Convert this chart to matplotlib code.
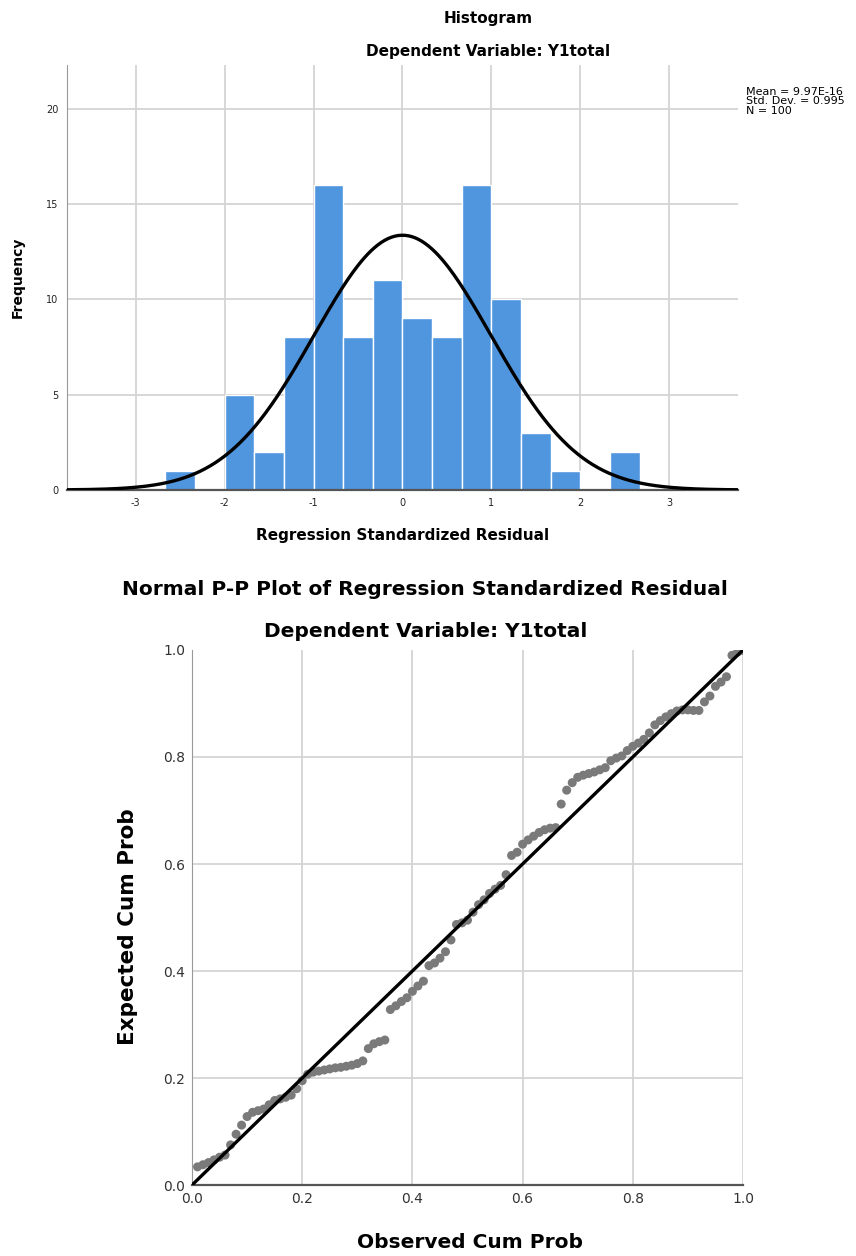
import numpy as np
import matplotlib as mpl
mpl.use('Agg')
import matplotlib.pyplot as plt

# histogram of standardized residuals (bin width 1/3, starting at -8/3)
freq = [1, 0, 5, 2, 8, 16, 8, 11, 9, 8, 16, 10, 3, 1, 0, 2]
bin_start = -8 / 3
bin_width = 1 / 3
res_mean = 9.97e-16
res_sd = 0.995
n_obs = 100
stats_lines = ['Mean = 9.97E-16', 'Std. Dev. = 0.995', 'N = 100']

# normal P-P plot points
observed = [0.01, 0.02, 0.03, 0.04, 0.05, 0.06, 0.07, 0.08, 0.09, 0.10,
            0.11, 0.12, 0.13, 0.14, 0.15, 0.16, 0.17, 0.18, 0.19, 0.20,
            0.21, 0.22, 0.23, 0.24, 0.25, 0.26, 0.27, 0.28, 0.29, 0.30,
            0.31, 0.32, 0.33, 0.34, 0.35, 0.36, 0.37, 0.38, 0.39, 0.40,
            0.41, 0.42, 0.43, 0.44, 0.45, 0.46, 0.47, 0.48, 0.49, 0.50,
            0.51, 0.52, 0.53, 0.54, 0.55, 0.56, 0.57, 0.58, 0.59, 0.60,
            0.61, 0.62, 0.63, 0.64, 0.65, 0.66, 0.67, 0.68, 0.69, 0.70,
            0.71, 0.72, 0.73, 0.74, 0.75, 0.76, 0.77, 0.78, 0.79, 0.80,
            0.81, 0.82, 0.83, 0.84, 0.85, 0.86, 0.87, 0.88, 0.89, 0.90,
            0.91, 0.92, 0.93, 0.94, 0.95, 0.96, 0.97, 0.98, 0.99, 1.00]
expected = [0.034, 0.038, 0.042, 0.047, 0.052, 0.056, 0.075, 0.095, 0.112, 0.128,
            0.136, 0.139, 0.142, 0.150, 0.158, 0.161, 0.164, 0.168, 0.180, 0.195,
            0.207, 0.211, 0.213, 0.215, 0.217, 0.219, 0.220, 0.222, 0.224, 0.227,
            0.232, 0.255, 0.264, 0.268, 0.271, 0.328, 0.335, 0.343, 0.350, 0.362,
            0.372, 0.381, 0.410, 0.415, 0.424, 0.436, 0.458, 0.487, 0.490, 0.495,
            0.510, 0.524, 0.533, 0.545, 0.553, 0.560, 0.580, 0.616, 0.622, 0.637,
            0.645, 0.652, 0.659, 0.664, 0.667, 0.668, 0.712, 0.738, 0.752, 0.762,
            0.766, 0.769, 0.772, 0.776, 0.780, 0.793, 0.798, 0.802, 0.812, 0.820,
            0.826, 0.833, 0.845, 0.860, 0.868, 0.875, 0.881, 0.886, 0.888, 0.888,
            0.887, 0.887, 0.903, 0.914, 0.932, 0.940, 0.950, 0.990, 0.996, 0.999]

plt.rcParams['axes.unicode_minus'] = False
grid_c = '#d4d4d4'

fig = plt.figure(figsize=(8.56, 12.56), dpi=100)

# ---- histogram ----
ax = fig.add_axes([0.0783, 0.6099, 0.7838, 0.3384])
edges = bin_start + bin_width * np.arange(len(freq) + 1)
centers = (edges[:-1] + edges[1:]) / 2
ax.bar(centers, freq, width=bin_width, color='#4F96DE', edgecolor='white',
       linewidth=1.0, zorder=2)
xs = np.linspace(-3.8, 3.8, 400)
curve = n_obs * bin_width * np.exp(-0.5 * ((xs - res_mean) / res_sd) ** 2) / (res_sd * np.sqrt(2 * np.pi))
ax.plot(xs, curve, color='black', lw=2.4, zorder=3)
ax.set_xlim(-3.77, 3.77)
ax.set_ylim(0, 22.3)
ax.set_xticks([-3, -2, -1, 0, 1, 2, 3])
ax.set_yticks([0, 5, 10, 15, 20])
ax.grid(True, color=grid_c, lw=1.3, zorder=0)
ax.set_axisbelow(True)
ax.tick_params(length=0, labelsize=7, colors='#222222', pad=6)
for s in ['top', 'right']:
    ax.spines[s].set_visible(False)
ax.spines['left'].set_color('#999999')
ax.spines['bottom'].set_color('#555555')
ax.spines['bottom'].set_linewidth(1.6)

fig.text(0.570, 0.9856, 'Histogram', ha='center', va='center', fontsize=11,
         fontweight='bold')
fig.text(0.570, 0.9586, 'Dependent Variable: Y1total', ha='center', va='center',
         fontsize=11, fontweight='bold')
fig.text(0.021, 0.7795, 'Frequency', ha='center', va='center', rotation=90,
         fontsize=10, fontweight='bold')
fig.text(0.470, 0.5740, 'Regression Standardized Residual', ha='center', va='center',
         fontsize=11, fontweight='bold')
fig.text(0.872, 0.9195, '\n'.join(stats_lines), ha='left', va='center',
         fontsize=8, linespacing=0.95)

# ---- P-P plot ----
ax2 = fig.add_axes([0.2243, 0.0565, 0.6437, 0.4260])
ax2.plot([0, 1], [0, 1], color='black', lw=2.4, zorder=3)
ax2.scatter(observed, expected, s=42, color='#7a7a7a', edgecolors='none', zorder=2)
ax2.set_xlim(0, 1)
ax2.set_ylim(0, 1)
ticks = [0.0, 0.2, 0.4, 0.6, 0.8, 1.0]
ax2.set_xticks(ticks)
ax2.set_yticks(ticks)
ax2.set_xticklabels(['%.1f' % t for t in ticks])
ax2.set_yticklabels(['%.1f' % t for t in ticks])
ax2.grid(True, color=grid_c, lw=1.3, zorder=0)
ax2.yaxis.get_gridlines()[-1].set_visible(False)
ax2.set_axisbelow(True)
ax2.tick_params(length=0, labelsize=10, colors='#333333', pad=5)
for s in ['top', 'right']:
    ax2.spines[s].set_visible(False)
ax2.spines['left'].set_color('#999999')
ax2.spines['bottom'].set_color('#555555')
ax2.spines['bottom'].set_linewidth(1.6)

fig.text(0.496, 0.5303, 'Normal P-P Plot of Regression Standardized Residual',
         ha='center', va='center', fontsize=14.5, fontweight='bold')
fig.text(0.497, 0.4976, 'Dependent Variable: Y1total', ha='center', va='center',
         fontsize=14.5, fontweight='bold')
fig.text(0.549, 0.0104, 'Observed Cum Prob', ha='center', va='center',
         fontsize=14.5, fontweight='bold')
fig.text(0.150, 0.262, 'Expected Cum Prob', ha='center', va='center', rotation=90,
         fontsize=15.5, fontweight='bold')

plt.savefig('out.png', dpi=100)
plt.close()
